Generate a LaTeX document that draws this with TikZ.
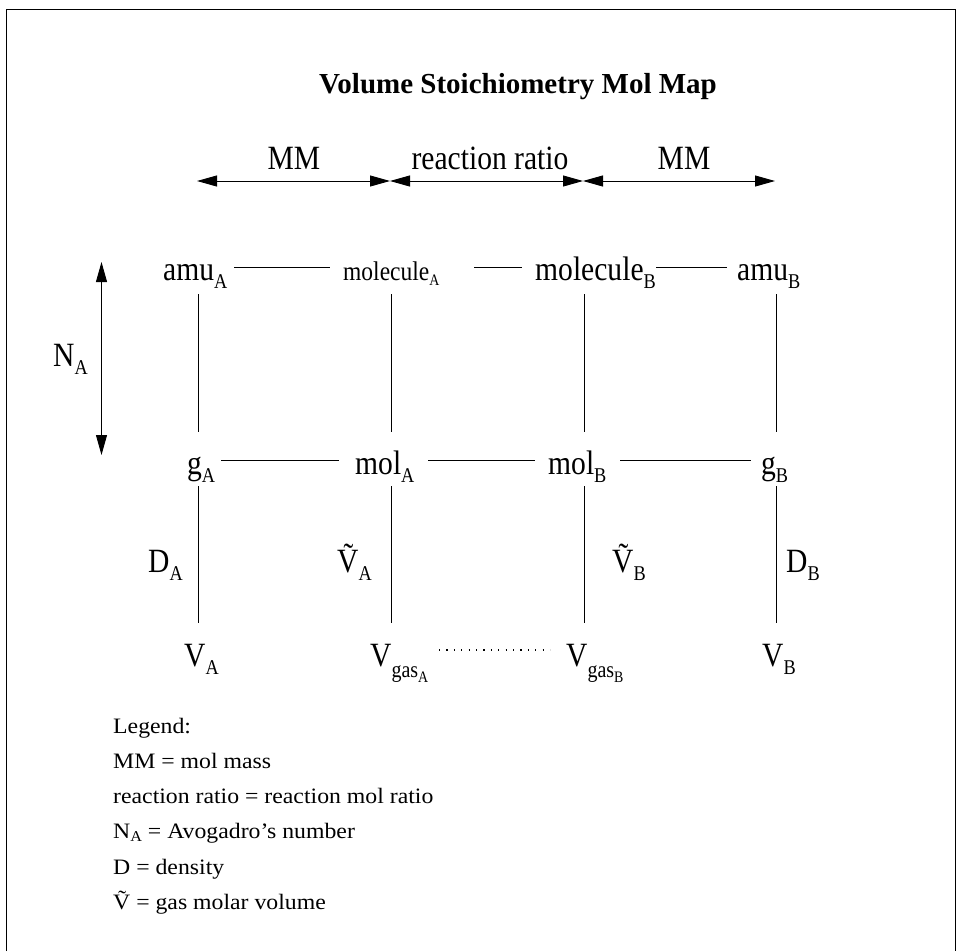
\documentclass[tikz,border=0pt]{standalone}
\usepackage{fontspec}
\setmainfont{Liberation Serif}
\newfontfamily\labfont{Liberation Serif}[FakeStretch=0.87]
\newfontfamily\legfont{Liberation Serif}[FakeStretch=1.08]
\usetikzlibrary{arrows.meta}
\newcommand\lsub[2][8]{\raisebox{-#1pt}{\fontsize{21}{21}\selectfont #2}}
\newcommand\ssub[2][5]{\raisebox{-#1pt}{\fontsize{16}{16}\selectfont #2}}
\tikzset{
  lab/.style={font=\labfont\fontsize{34}{40}\selectfont, inner sep=0pt, anchor=base west},
  smalllab/.style={font=\labfont\fontsize{27}{32}\selectfont, inner sep=0pt, anchor=base west},
  leg/.style={font=\legfont\fontsize{22}{26}\selectfont, inner sep=0pt, anchor=base west},
  conn/.style={line width=0.9pt},
  dbl/.style={line width=0.9pt, {Triangle[length=20pt,width=11pt]}-{Triangle[length=20pt,width=11pt]}}
}
\begin{document}
\begin{tikzpicture}[x=1pt,y=-1pt]
\useasboundingbox (0,0) rectangle (956,951);
\draw[line width=1pt] (6,951) -- (6,9) -- (955,9) -- (955,951);

% title
\node[font=\bfseries\fontsize{29}{34}\selectfont, inner sep=0pt, anchor=base] (title) at (518,93) {Volume Stoichiometry Mol Map};

% top arrows
\node[lab, anchor=base] (mm1) at (294,169) {MM};
\node[lab, anchor=base] (rr) at (490,169) {reaction ratio};
\node[lab, anchor=base] (mm2) at (684,169) {MM};
\coordinate (a0) at (197,181);
\coordinate (a1) at (390,181);
\coordinate (a2) at (583,181);
\coordinate (a3) at (775,181);
\draw[dbl] (a0) -- (a1);
\draw[dbl] (a1) -- (a2);
\draw[dbl] (a2) -- (a3);

% N_A arrow
\coordinate (n0) at (101.5,262);
\coordinate (n1) at (101.5,455);
\draw[dbl] (n0) -- (n1);
\node[lab] (NA) at (53,366) {N\lsub{A}};

% row 1
\node[lab] (amuA) at (163,280) {amu\lsub{A}};
\node[smalllab] (molecA) at (343,280) {molecule\ssub{A}};
\node[lab] (molecB) at (535,280) {molecule\lsub{B}};
\node[lab] (amuB) at (737,280) {amu\lsub{B}};

% row 2
\node[lab] (gA) at (187,474) {g\lsub{A}};
\node[lab] (molA) at (355,474) {mol\lsub{A}};
\node[lab] (molB) at (548,474) {mol\lsub{B}};
\node[lab] (gB) at (761,474) {g\lsub{B}};

% side labels
\node[lab] (DA) at (148,572) {D\lsub{A}};
\node[lab] (TVA) at (337,572) {\~{V}\lsub{A}};
\node[lab] (TVB) at (612,572) {\~{V}\lsub{B}};
\node[lab] (DB) at (786,572) {D\lsub{B}};

% row 3
\node[lab] (VA) at (184,666) {V\lsub{A}};
\node[lab] (VgA) at (370,666) {V\raisebox{-11pt}{\fontsize{23}{23}\selectfont gas\ssub[5]{A}}};
\node[lab] (VgB) at (566,666) {V\raisebox{-11pt}{\fontsize{23}{23}\selectfont gas\ssub[5]{B}}};
\node[lab] (VB) at (762,666) {V\lsub{B}};

% horizontal connectors
\coordinate (h1a) at (234,267); \coordinate (h1b) at (330,267);
\coordinate (h1c) at (474,267); \coordinate (h1d) at (522,267);
\coordinate (h1e) at (656,267); \coordinate (h1f) at (727,267);
\draw[conn] (h1a) -- (h1b);
\draw[conn] (h1c) -- (h1d);
\draw[conn] (h1e) -- (h1f);
\coordinate (h2a) at (221,460); \coordinate (h2b) at (339,460);
\coordinate (h2c) at (428,460); \coordinate (h2d) at (535,460);
\coordinate (h2e) at (620,460); \coordinate (h2f) at (751,460);
\draw[conn] (h2a) -- (h2b);
\draw[conn] (h2c) -- (h2d);
\draw[conn] (h2e) -- (h2f);

% vertical connectors
\foreach \x/\n in {198/1,391/2,584/3,776/4}{
  \coordinate (v\n a) at (\x,294); \coordinate (v\n b) at (\x,432);
  \coordinate (v\n c) at (\x,486); \coordinate (v\n d) at (\x,623);
  \draw[conn] (v\n a) -- (v\n b);
  \draw[conn] (v\n c) -- (v\n d);
}

% dotted
\coordinate (d0) at (439,650); \coordinate (d1) at (550,650);
\draw[line width=1.1pt, dash pattern=on 1.1pt off 6.3pt] (d0) -- (d1);

% legend
\node[leg] (l0) at (113,733) {Legend:};
\node[leg] (l1) at (113,768) {MM = mol mass};
\node[leg] (l2) at (113,803) {reaction ratio = reaction mol ratio};
\node[leg] (l3) at (113,838) {N\raisebox{-3pt}{\fontsize{15}{15}\selectfont A} = Avogadro’s number};
\node[leg] (l4) at (113,874) {D = density};
\node[leg] (l5) at (113,909) {\~{V} = gas molar volume};
\end{tikzpicture}
\end{document}
